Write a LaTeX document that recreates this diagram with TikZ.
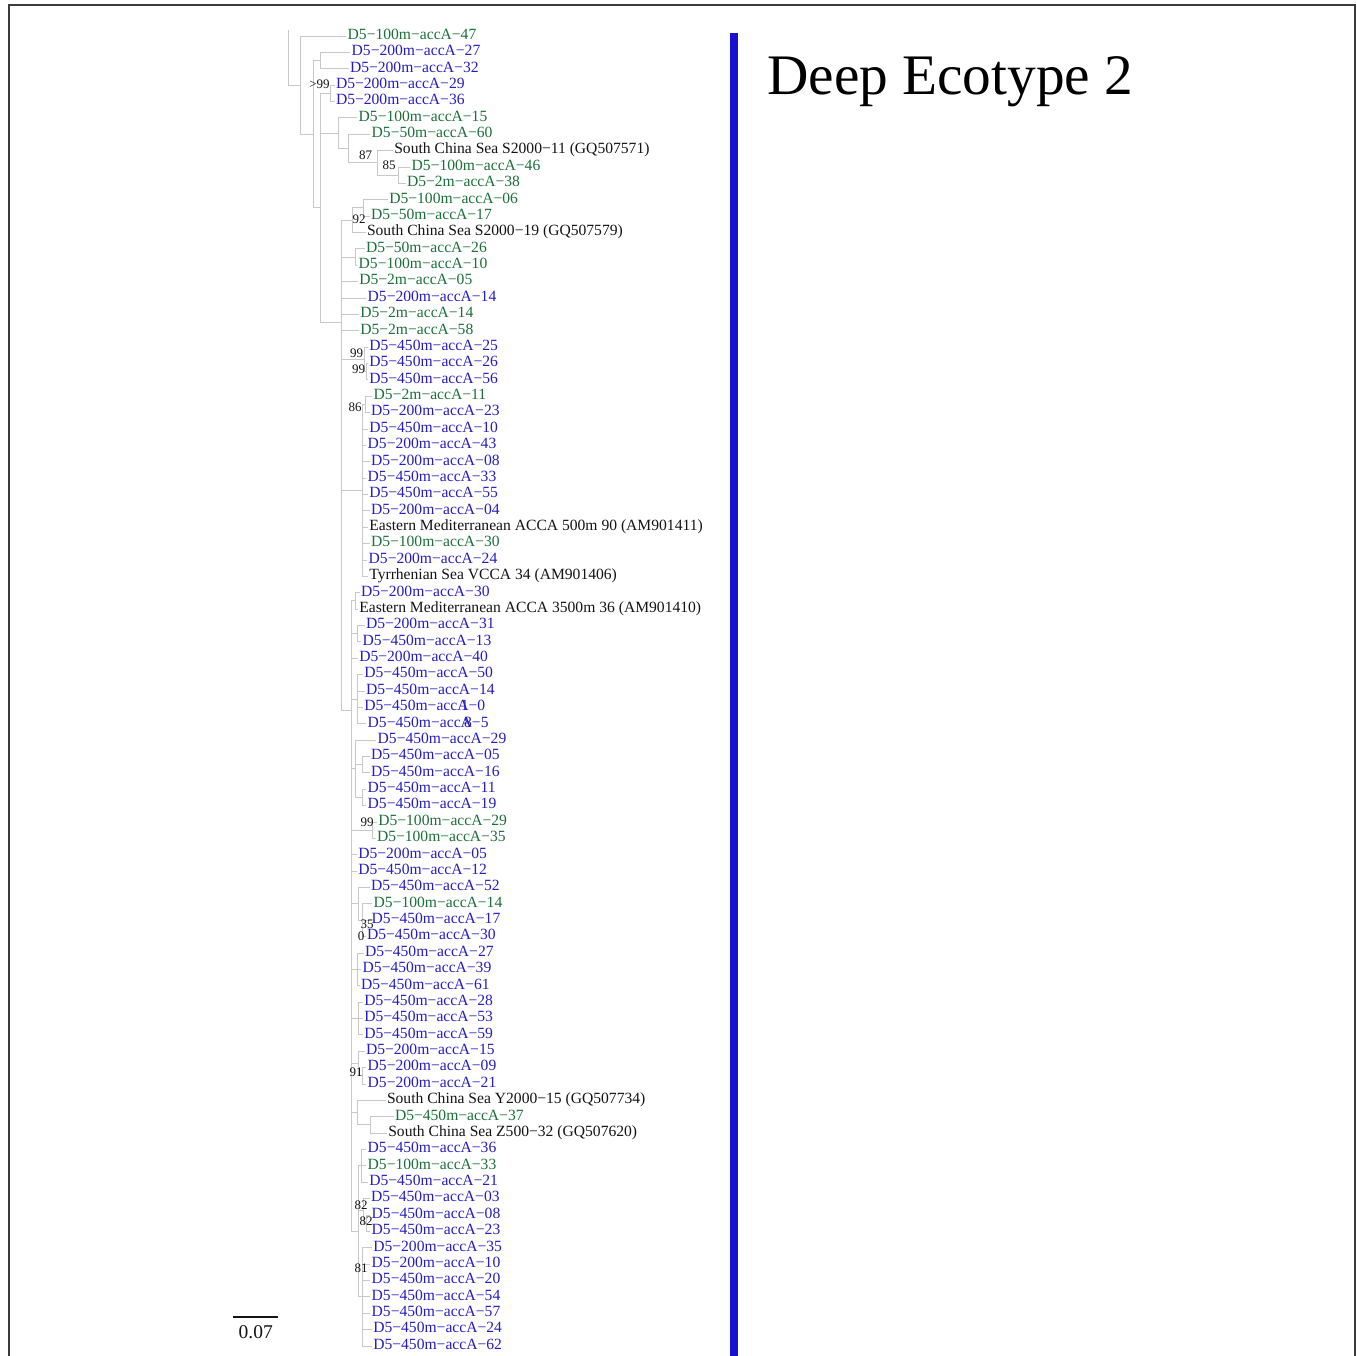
\documentclass[tikz,border=0pt]{standalone}
\usepackage{fontspec}
\setmainfont{Liberation Serif}
\definecolor{blu}{RGB}{38,30,195}
\definecolor{grn}{RGB}{28,112,58}
\definecolor{blk}{RGB}{20,20,20}
\definecolor{barblue}{RGB}{26,16,210}
\definecolor{branch}{RGB}{200,200,200}
\definecolor{framec}{RGB}{60,60,60}
\tikzset{
  leaf/.style={anchor=west,inner sep=0pt,outer sep=1.5pt,text height=0.66em,text depth=0pt,font=\fontsize{15.6}{18}\selectfont},
  boot/.style={inner sep=0pt,font=\fontsize{13}{15}\selectfont,text=blk},
  br/.style={draw=branch,line width=1pt},
}
\begin{document}
\begin{tikzpicture}[x=1pt,y=-1pt]
\useasboundingbox (0,0) rectangle (1357,1355);
\fill[white] (0,0) rectangle (1357,1355);
% frame
\draw[framec,line width=1.4pt] (9,1358) -- (9,5) -- (1355,5) -- (1355,1358);
% title and bar
\node[anchor=base west,inner sep=0pt,font=\fontsize{57.3}{60}\selectfont] (title) at (767,94) {Deep Ecotype 2};
\fill[barblue] (730,33) rectangle (738,1356);
\begin{scope}[yshift=-2pt]
% leaves
\foreach \i/\lx/\c/\t in {
1/346.2/grn/D5−100m−accA−47,
2/350.2/blu/D5−200m−accA−27,
3/348.5/blu/D5−200m−accA−32,
4/334.5/blu/D5−200m−accA−29,
5/334.5/blu/D5−200m−accA−36,
6/357.2/grn/D5−100m−accA−15,
7/370.2/grn/D5−50m−accA−60,
8/392.8/blk/South China Sea S2000−11 (GQ507571),
9/410.2/grn/D5−100m−accA−46,
10/405.5/grn/D5−2m−accA−38,
11/387.8/grn/D5−100m−accA−06,
12/369.5/grn/D5−50m−accA−17,
13/365.5/blk/South China Sea S2000−19 (GQ507579),
14/364.5/grn/D5−50m−accA−26,
15/357.2/grn/D5−100m−accA−10,
16/357.8/grn/D5−2m−accA−05,
17/366.2/blu/D5−200m−accA−14,
18/358.8/grn/D5−2m−accA−14,
19/358.8/grn/D5−2m−accA−58,
20/367.8/blu/D5−450m−accA−25,
21/367.8/blu/D5−450m−accA−26,
22/367.8/blu/D5−450m−accA−56,
23/372.2/grn/D5−2m−accA−11,
24/369.5/blu/D5−200m−accA−23,
25/367.8/blu/D5−450m−accA−10,
26/366.2/blu/D5−200m−accA−43,
27/369.5/blu/D5−200m−accA−08,
28/366.2/blu/D5−450m−accA−33,
29/367.8/blu/D5−450m−accA−55,
30/369.5/blu/D5−200m−accA−04,
31/367.8/blk/Eastern Mediterranean ACCA 500m 90 (AM901411),
32/369.5/grn/D5−100m−accA−30,
33/367.2/blu/D5−200m−accA−24,
34/367.8/blk/Tyrrhenian Sea VCCA 34 (AM901406),
35/359.5/blu/D5−200m−accA−30,
36/357.8/blk/Eastern Mediterranean ACCA 3500m 36 (AM901410),
37/364.5/blu/D5−200m−accA−31,
38/361.2/blu/D5−450m−accA−13,
39/357.8/blu/D5−200m−accA−40,
40/362.8/blu/D5−450m−accA−50,
41/364.5/blu/D5−450m−accA−14,
42/362.8/blu/D5−450m−accA\llap{1}−0,
43/366.2/blu/D5−450m−accA\llap{8}−5,
44/376.2/blu/D5−450m−accA−29,
45/369.5/blu/D5−450m−accA−05,
46/369.5/blu/D5−450m−accA−16,
47/366.2/blu/D5−450m−accA−11,
48/366.2/blu/D5−450m−accA−19,
49/376.8/grn/D5−100m−accA−29,
50/375.5/grn/D5−100m−accA−35,
51/356.8/blu/D5−200m−accA−05,
52/356.8/blu/D5−450m−accA−12,
53/369.5/blu/D5−450m−accA−52,
54/372.2/grn/D5−100m−accA−14,
55/370.2/blu/D5−450m−accA−17,
56/365.5/blu/D5−450m−accA−30,
57/363.5/blu/D5−450m−accA−27,
58/361.2/blu/D5−450m−accA−39,
59/359.5/blu/D5−450m−accA−61,
60/362.8/blu/D5−450m−accA−28,
61/362.8/blu/D5−450m−accA−53,
62/362.8/blu/D5−450m−accA−59,
63/364.5/blu/D5−200m−accA−15,
64/366.2/blu/D5−200m−accA−09,
65/366.2/blu/D5−200m−accA−21,
66/385.5/blk/South China Sea Y2000−15 (GQ507734),
67/393.5/grn/D5−450m−accA−37,
68/386.8/blk/South China Sea Z500−32 (GQ507620),
69/366.2/blu/D5−450m−accA−36,
70/366.2/grn/D5−100m−accA−33,
71/367.8/blu/D5−450m−accA−21,
72/369.5/blu/D5−450m−accA−03,
73/370.2/blu/D5−450m−accA−08,
74/370.2/blu/D5−450m−accA−23,
75/371.8/blu/D5−200m−accA−35,
76/370.2/blu/D5−200m−accA−10,
77/370.2/blu/D5−450m−accA−20,
78/370.2/blu/D5−450m−accA−54,
79/370.2/blu/D5−450m−accA−57,
80/371.8/blu/D5−450m−accA−24,
81/371.8/blu/D5−450m−accA−62}
  \node[leaf,text=\c] (L\i) at ({\lx},{34+(\i-1)*16.375}) {\t};
% internal nodes
\coordinate (top) at (288,28);
\coordinate (R) at (288,83.1);
\coordinate (A) at (300,83.1);
\coordinate (B) at (313,132.1);
\coordinate (C) at (320,58.56);
\coordinate (D) at (320,205.7);
\coordinate (E) at (330,91.31);
\coordinate (G) at (338,131.23);
\coordinate (G2) at (348,146.58);
\coordinate (G3) at (377,160.9);
\coordinate (G4) at (398,173.19);
\coordinate (F) at (341,320);
\coordinate (H) at (352,218.22);
\coordinate (H2) at (363,205.94);
\coordinate (I1) at (355,255.06);
\coordinate (M1) at (364,357.4);
\coordinate (M1b) at (366,369.69);
\coordinate (N) at (362,488.4);
\coordinate (N1) at (365,402.44);
\coordinate (P) at (351,708);
\coordinate (P1) at (355,598.94);
\coordinate (P2) at (357,631.69);
\coordinate (P3) at (357,697.19);
\coordinate (P4) at (355,766.8);
\coordinate (P4b) at (362,762.69);
\coordinate (P4c) at (362,795.44);
\coordinate (P5) at (372,828.19);
\coordinate (P6) at (358,901.9);
\coordinate (P6a) at (362,918.25);
\coordinate (P7) at (357,967.38);
\coordinate (P8) at (358,1016.5);
\coordinate (P9) at (358,1061.5);
\coordinate (P9a) at (362,1073.8);
\coordinate (P10) at (357,1110.7);
\coordinate (P10a) at (370,1122.94);
\coordinate (Q) at (358,1229.4);
\coordinate (Q1) at (361,1163.88);
\coordinate (Q2) at (363,1208.9);
\coordinate (Q2a) at (366,1221.19);
\coordinate (Q3) at (362,1294.9);
% branches
\draw[br] (top) -- (R) -- (A);
\foreach \p/\q in {A/L1,A/B,B/C,B/D,C/L2,C/L3,D/E,D/G,D/F,E/L4,E/L5,
  G/L6,G/G2,G2/L7,G2/G3,G3/L8,G3/G4,G4/L9,G4/L10,
  F/H,F/I1,F/L16,F/L17,F/L18,F/L19,F/M1,F/N,F/P,
  H/H2,H/L13,H2/L11,H2/L12,I1/L14,I1/L15,
  M1/L20,M1/M1b,M1b/L21,M1b/L22,
  N/N1,N1/L23,N1/L24,N/L25,N/L26,N/L27,N/L28,N/L29,N/L30,N/L31,N/L32,N/L33,N/L34,
  P/P1,P/P2,P/L39,P/P3,P/P4,P/P5,P/L51,P/L52,P/P6,P/P7,P/P8,P/P9,P/P10,P/Q,
  P1/L35,P1/L36,P2/L37,P2/L38,P3/L40,P3/L41,P3/L42,P3/L43,
  P4/L44,P4/P4b,P4/P4c,P4b/L45,P4b/L46,P4c/L47,P4c/L48,P5/L49,P5/L50,
  P6/L53,P6/P6a,P6a/L54,P6a/L55,P6a/L56,P7/L57,P7/L58,P7/L59,P8/L60,P8/L61,P8/L62,
  P9/L63,P9/P9a,P9a/L64,P9a/L65,P10/L66,P10/P10a,P10a/L67,P10a/L68,
  Q/Q1,Q/Q2,Q/Q3,Q1/L69,Q1/L70,Q1/L71,Q2/L72,Q2/Q2a,Q2a/L73,Q2a/L74,
  Q3/L75,Q3/L76,Q3/L77,Q3/L78,Q3/L79,Q3/L80,Q3/L81}
  \draw[br] (\p) |- (\q);
\end{scope}
% bootstrap values
\node[boot] (b1) at (319.5,84) {>99};
\node[boot] (b2) at (365.5,155) {87};
\node[boot] (b3) at (389,165.5) {85};
\node[boot] (b4) at (359,219) {92};
\node[boot] (b5) at (356.5,353) {99};
\node[boot] (b6) at (358.5,369) {99};
\node[boot] (b7) at (355,407) {86};
\node[boot] (b8) at (367,822) {99};
\node[boot] (b9) at (367,924) {35};
\node[boot] (b10) at (361,936) {0};
\node[boot] (b11) at (356,1072) {91};
\node[boot] (b12) at (361,1205) {82};
\node[boot] (b13) at (366,1221) {82};
\node[boot] (b14) at (361,1268) {81};
% scale bar
\coordinate (s1) at (233,1317);
\coordinate (s2) at (278,1317);
\draw[blk,line width=2pt] (s1) -- (s2);
\node[inner sep=0pt,font=\fontsize{19.5}{22}\selectfont,text=blk] (slab) at (255.8,1332) {0.07};
\end{tikzpicture}
\end{document}
